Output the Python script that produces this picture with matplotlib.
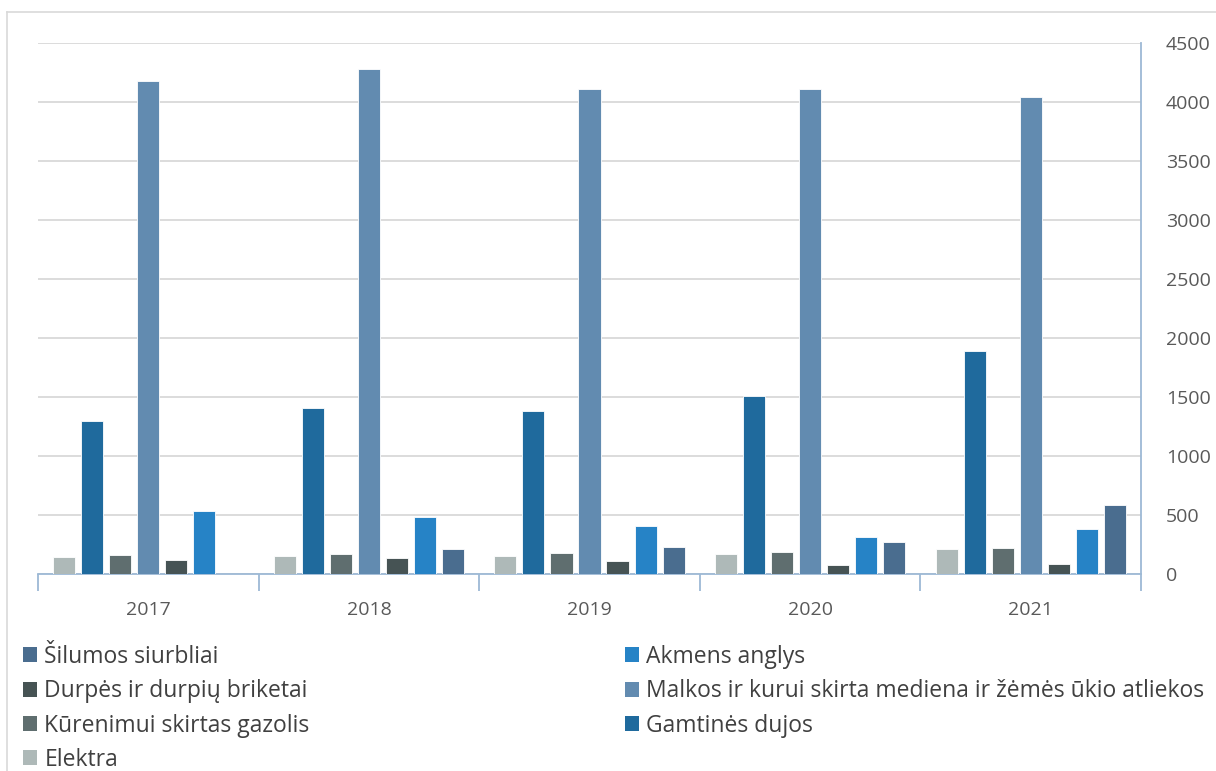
import matplotlib
matplotlib.use("Agg")
import matplotlib.pyplot as plt
from matplotlib.patches import Patch
from matplotlib.lines import Line2D
import numpy as np

plt.rcParams['font.family'] = ['Open Sans', 'DejaVu Sans']

years = ["2017", "2018", "2019", "2020", "2021"]

series_names = [
    "Elektra",
    "Gamtinės dujos",
    "Kūrenimui skirtas gazolis",
    "Malkos ir kurui skirta mediena ir žėmės ūkio atliekos",
    "Durpės ir durpių briketai",
    "Akmens anglys",
    "Šilumos siurbliai",
]

elektra = [145, 158, 158, 169, 217]
gamtines_dujos = [1295, 1409, 1381, 1514, 1890]
gazolis = [165, 172, 180, 189, 223]
malkos = [4183, 4282, 4113, 4110, 4043]
durpes = [120, 141, 113, 79, 90]
akmens_anglys = [540, 486, 409, 316, 384]
silumos_siurbliai = [0, 217, 231, 274, 587]

values = [elektra, gamtines_dujos, gazolis, malkos, durpes, akmens_anglys, silumos_siurbliai]
colors = ["#AEB9B8", "#1F6A9D", "#5F6E6F", "#628BB0", "#465354", "#2683C6", "#4A6D8F"]

W, H = 1216, 771
fig = plt.figure(figsize=(W / 100, H / 100), dpi=100)
ax = fig.add_axes([38 / W, (H - 574.3) / H, (1141 - 38) / W, (574.3 - 43.3) / H])

x = np.arange(len(years))
step = 0.127
bw = 0.100
n = len(series_names)
for i, (name, vals, c) in enumerate(zip(series_names, values, colors)):
    ax.bar(x + (i - (n - 1) / 2) * step, vals, width=bw, color=c,
           edgecolor="white", linewidth=0.6, label=name, zorder=3)

ax.set_xlim(-0.5, len(years) - 0.5)
ax.set_ylim(0, 4500)
ax.set_yticks(np.arange(0, 4501, 500))
ax.yaxis.tick_right()
ax.tick_params(axis="y", length=0, pad=18, labelsize=14, labelcolor="#595959")
ax.grid(axis="y", color="#D9D9D9", linewidth=1.3, zorder=0)

ax.set_xticks(x)
ax.set_xticklabels(years)
ax.set_xticks(np.arange(-0.5, len(years), 1.0), minor=True)
ax.tick_params(axis="x", which="major", length=0, pad=19, labelsize=14, labelcolor="#595959")
ax.tick_params(axis="x", which="minor", length=12, width=1.3, color="#9DB9D5", direction="out")

for side in ["left", "top"]:
    ax.spines[side].set_visible(False)
for side in ["right", "bottom"]:
    ax.spines[side].set_color("#9DB9D5")
    ax.spines[side].set_linewidth(1.3)

# chart frame
fig.add_artist(Line2D([7 / W, 7 / W], [0, (H - 12) / H], transform=fig.transFigure, color="#D9D9D9", lw=1.2))
fig.add_artist(Line2D([7 / W, 1], [(H - 12) / H, (H - 12) / H], transform=fig.transFigure, color="#D9D9D9", lw=1.2))

handles = {name: Patch(facecolor=c, edgecolor="none") for name, c in zip(series_names, colors)}
col1 = ["Šilumos siurbliai", "Durpės ir durpių briketai", "Kūrenimui skirtas gazolis", "Elektra"]
col2 = ["Akmens anglys", "Malkos ir kurui skirta mediena ir žėmės ūkio atliekos", "Gamtinės dujos"]

leg_kw = dict(frameon=False, fontsize=16.5, handlelength=0.63, handleheight=0.63,
              handletextpad=0.3, labelspacing=0.45, borderaxespad=0, borderpad=0,
              labelcolor="#404040")
leg1 = fig.legend([handles[k] for k in col1], col1, loc="upper left",
                  bbox_to_anchor=(23 / W, (H - 645) / H), **leg_kw)
leg2 = fig.legend([handles[k] for k in col2], col2, loc="upper left",
                  bbox_to_anchor=(625 / W, (H - 645) / H), **leg_kw)

fig.savefig("out.png", dpi=100)
